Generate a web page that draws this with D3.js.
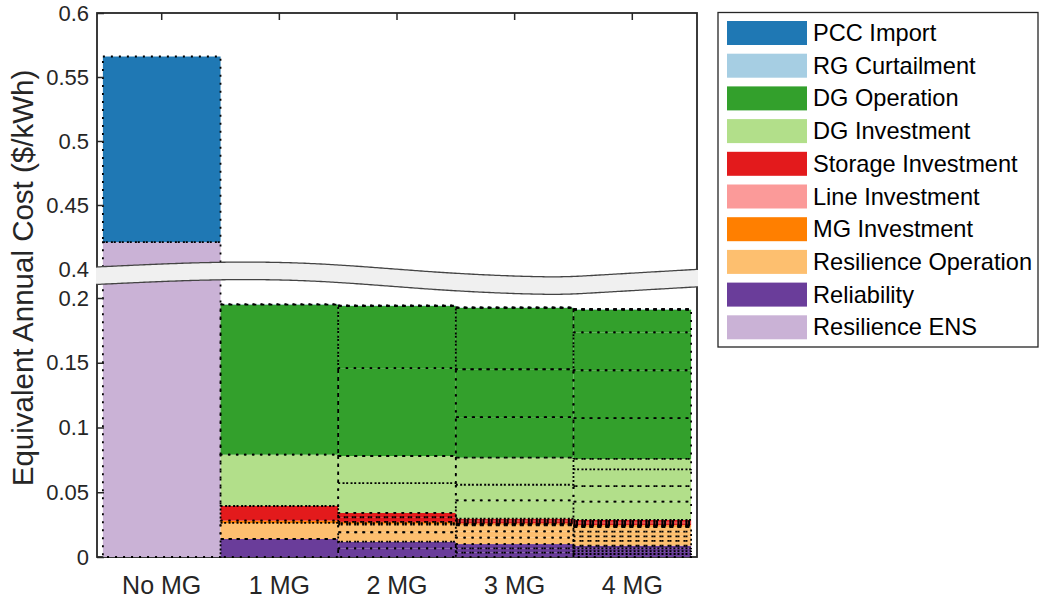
<!DOCTYPE html>
<html>
<head>
<meta charset="utf-8">
<script src="https://cdn.jsdelivr.net/npm/d3@7"></script>
<style>
  body { margin: 0; background: #fff; }
  text { font-family: Arial, "Liberation Sans", Helvetica, sans-serif; fill: #262626; }
</style>
</head>
<body>
<svg id="chart" width="1040" height="603"></svg>
<script>
// categories (number of microgrids)
const categories = ["No MG", "1 MG", "2 MG", "3 MG", "4 MG"];

// each series: one list per category, one value per microgrid ($/kWh)
const resilienceENS       = [[0.421], [0], [0, 0], [0, 0, 0], [0, 0, 0, 0]];
const reliability         = [[0], [0.0139], [0.0067, 0.0051], [0.0034, 0.0033, 0.0033], [0.0023, 0.0022, 0.0022, 0.0020]];
const resilienceOperation = [[0], [0.0124], [0.0073, 0.0060], [0.0050, 0.0048, 0.0047], [0.0037, 0.0036, 0.0036, 0.0035]];
const mgInvestment        = [[0], [0.0018], [0.0010, 0.0010], [0.0005, 0.0005, 0.0005], [0.0004, 0.0004, 0.0004, 0.0004]];
const lineInvestment      = [[0], [0], [0, 0], [0, 0, 0], [0, 0, 0, 0]];
const storageInvestment   = [[0], [0.0113], [0.0036, 0.0033], [0.0012, 0.0012, 0.0012], [0.0010, 0.0010, 0.0010, 0.0009]];
const dgInvestment        = [[0], [0.0396], [0.0231, 0.0209], [0.0142, 0.0120, 0.0209], [0.0141, 0.0121, 0.0129, 0.0080]];
const dgOperation         = [[0], [0.1159], [0.0678, 0.0480], [0.0313, 0.0370, 0.0473], [0.0316, 0.0369, 0.0293, 0.0175]];
const rgCurtailment       = [[0], [0.0004], [0.0002, 0.0002], [0.0002, 0.0001, 0.0001], [0.0001, 0.0001, 0.0001, 0.0001]];
const pccImport           = [[0.145], [0], [0, 0], [0, 0, 0], [0, 0, 0, 0]];

// legend order (top to bottom) = reverse of stacking order
const legendNames = ["PCC Import", "RG Curtailment", "DG Operation", "DG Investment", "Storage Investment",
  "Line Investment", "MG Investment", "Resilience Operation", "Reliability", "Resilience ENS"];
const legendColors = ["#1f78b4", "#a6cee3", "#33a02c", "#b2df8a", "#e31a1c",
  "#fb9a99", "#ff7f00", "#fdbf6f", "#6a3d9a", "#cab2d6"];

const lowerTicks = [0, 0.05, 0.1, 0.15, 0.2];
const upperTicks = [0.4, 0.45, 0.5, 0.55, 0.6];

// stacking order, bottom to top
const stackSeries = [resilienceENS, reliability, resilienceOperation, mgInvestment, lineInvestment,
  storageInvestment, dgInvestment, dgOperation, rgCurtailment, pccImport];
const stackColors = legendColors.slice().reverse();

const svg = d3.select("#chart");
const plotLeft = 97, plotRight = 697, plotTop = 13, plotBottom = 557;

const x = d3.scaleBand()
  .domain(categories)
  .range([plotLeft, plotRight])
  .paddingInner(0)
  .paddingOuter(0.05);

// broken y axis: lower part 0..0.2, upper part 0.4..0.6
const yLow = d3.scaleLinear().domain([0, 0.2]).range([plotBottom, 298]);
const yHigh = d3.scaleLinear().domain([0.4, 0.6]).range([269, plotTop]);
const yGap = d3.scaleLinear().domain([0.2, 0.4]).range([298, 269]);
function y(v) {
  if (v <= 0.2) return yLow(v);
  if (v >= 0.4) return yHigh(v);
  return yGap(v);
}

// build segments
const segments = [];
categories.forEach((c, i) => {
  let base = 0;
  stackSeries.forEach((s, k) => {
    s[i].forEach(v => {
      segments.push({ cat: c, y0: base, y1: base + v, color: stackColors[k] });
      base += v;
    });
  });
});

// frame
const axisColor = "#262626";
svg.append("rect")
  .attr("x", plotLeft).attr("y", plotTop)
  .attr("width", plotRight - plotLeft).attr("height", plotBottom - plotTop)
  .attr("fill", "none")
  .attr("stroke", axisColor)
  .attr("stroke-width", 1.8);

// fills
svg.append("g").selectAll("rect")
  .data(segments)
  .join("rect")
  .attr("x", d => x(d.cat))
  .attr("width", x.bandwidth())
  .attr("y", d => y(d.y1))
  .attr("height", d => y(d.y0) - y(d.y1))
  .attr("fill", d => d.color);

// dotted edges
svg.append("g").selectAll("rect")
  .data(segments)
  .join("rect")
  .attr("x", d => x(d.cat))
  .attr("width", x.bandwidth())
  .attr("y", d => y(d.y1))
  .attr("height", d => y(d.y0) - y(d.y1))
  .attr("fill", "none")
  .attr("stroke", "#000")
  .attr("stroke-width", 1.8)
  .attr("stroke-dasharray", "2 6");

// y axes (ticks inward)
function styleAxis(g) {
  g.select(".domain").remove();
  g.selectAll(".tick line").attr("stroke", axisColor).attr("stroke-width", 1.5);
  g.selectAll(".tick text")
    .attr("x", -8)
    .style("font-size", "22px")
    .style("font-family", "Arial, 'Liberation Sans', sans-serif")
    .attr("fill", axisColor);
}
const fmt = d => String(+d.toFixed(2));
svg.append("g")
  .attr("transform", `translate(${plotLeft},0)`)
  .call(d3.axisLeft(yLow).tickValues(lowerTicks).tickFormat(fmt).tickSizeInner(-7).tickSizeOuter(0))
  .call(styleAxis);
svg.append("g")
  .attr("transform", `translate(${plotLeft},0)`)
  .call(d3.axisLeft(yHigh).tickValues(upperTicks).tickFormat(fmt).tickSizeInner(-7).tickSizeOuter(0))
  .call(styleAxis);

// top ticks at category centers
svg.append("g")
  .attr("transform", `translate(0,${plotTop})`)
  .call(d3.axisTop(x).tickSizeInner(-7).tickSizeOuter(0).tickFormat(""))
  .call(g => g.select(".domain").remove())
  .selectAll(".tick line").attr("stroke", axisColor).attr("stroke-width", 1.5);

// x labels
svg.append("g").selectAll("text")
  .data(categories)
  .join("text")
  .attr("x", d => x(d) + x.bandwidth() / 2)
  .attr("y", 594)
  .attr("text-anchor", "middle")
  .style("font-size", "25px")
  .text(d => d);

// axis break band
const wave = [[96, 267], [220, 262.3], [330, 264.5], [440, 272.3], [540, 276.7], [600, 275], [698, 269.3]];
const thick = 17.5;
const tmp = svg.append("path")
  .attr("d", d3.line().curve(d3.curveNatural)(wave))
  .attr("fill", "none").attr("stroke", "none");
const node = tmp.node(), len = node.getTotalLength();
const upper = d3.range(0, len + 0.01, len / 300).map(l => { const p = node.getPointAtLength(l); return [p.x, p.y]; });
tmp.remove();
const lower = upper.map(p => [p[0], p[1] + thick]).reverse();
svg.append("path")
  .attr("d", d3.line().curve(d3.curveLinearClosed)(upper.concat(lower)))
  .attr("fill", "#f0f0f0")
  .attr("stroke", "none");
svg.append("path")
  .attr("d", d3.line()(upper))
  .attr("fill", "none").attr("stroke", "#444").attr("stroke-width", 1.3);
svg.append("path")
  .attr("d", d3.line()(lower))
  .attr("fill", "none").attr("stroke", "#444").attr("stroke-width", 1.3);

// y label
svg.append("text")
  .attr("transform", `translate(33,278) rotate(-90)`)
  .attr("text-anchor", "middle")
  .style("font-size", "29.5px")
  .text("Equivalent Annual Cost ($/kWh)");

// legend
const legend = svg.append("g");
legend.append("rect")
  .attr("x", 718).attr("y", 12.5)
  .attr("width", 320).attr("height", 334.5)
  .attr("fill", "#fff")
  .attr("stroke", axisColor)
  .attr("stroke-width", 1.3);
const rows = legend.selectAll("g.row")
  .data(legendNames)
  .join("g")
  .attr("class", "row")
  .attr("transform", (d, i) => `translate(727,${21 + i * 32.7})`);
rows.append("rect")
  .attr("width", 80).attr("height", 24)
  .attr("fill", (d, i) => legendColors[i]);
rows.append("text")
  .attr("x", 86).attr("y", 20)
  .style("font-size", "23.6px")
  .style("fill", "#000")
  .text(d => d);
</script>
</body>
</html>
